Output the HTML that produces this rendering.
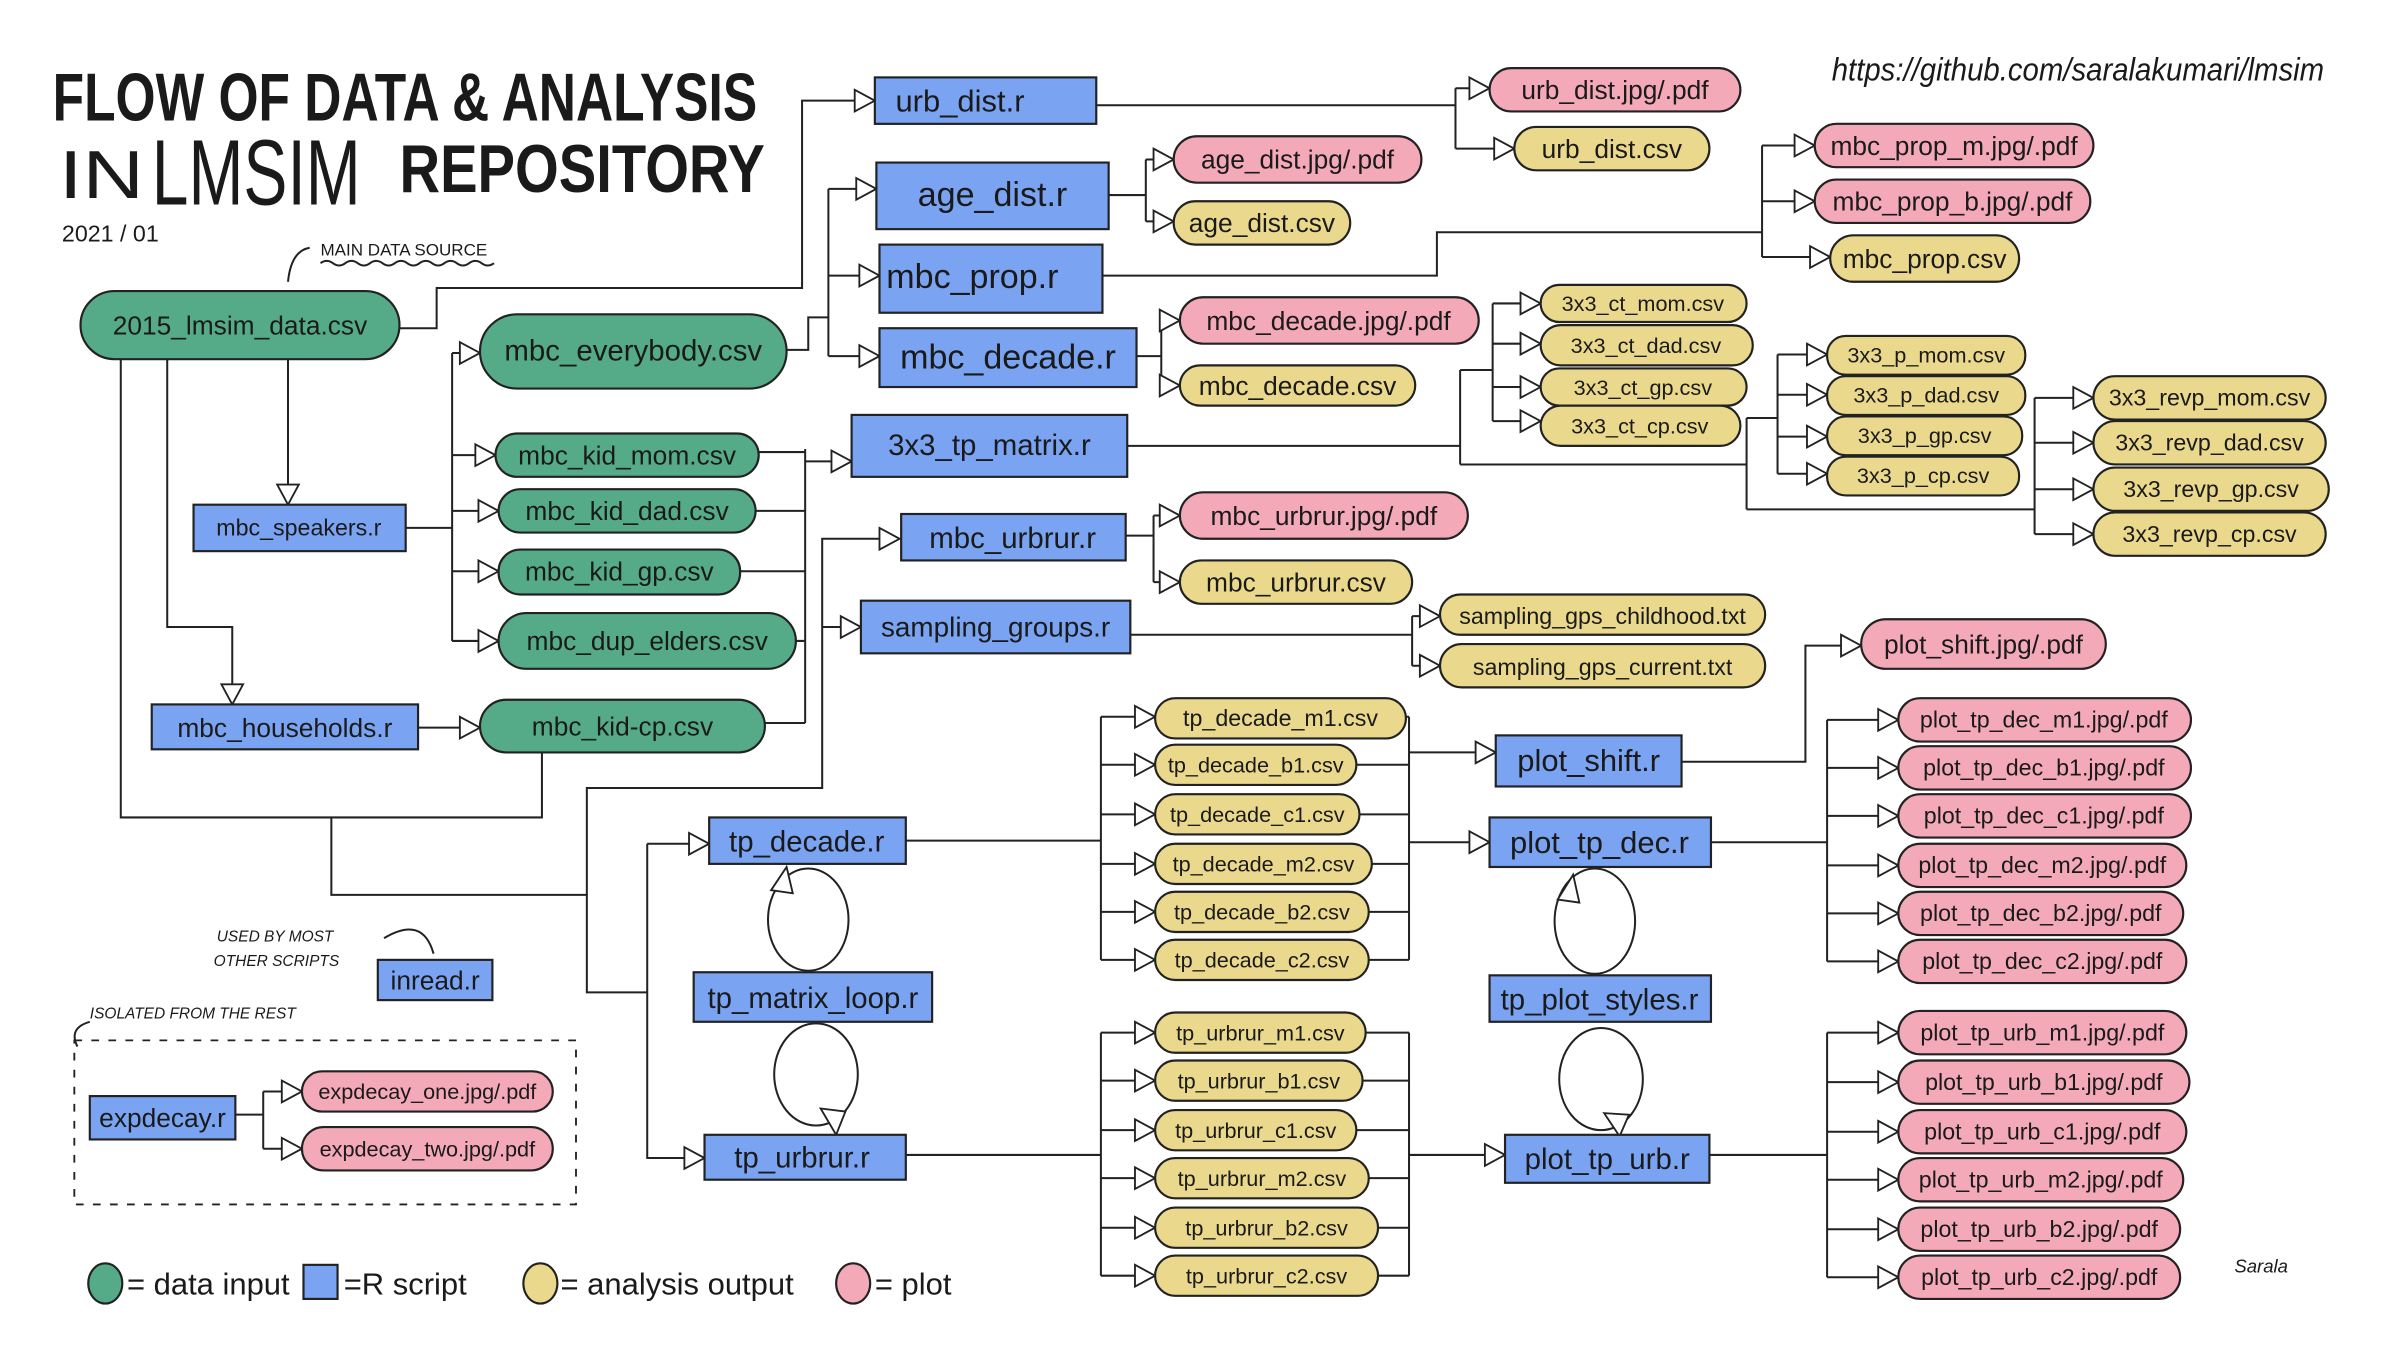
<!DOCTYPE html>
<html><head><meta charset="utf-8"><style>
html,body{margin:0;padding:0;background:#fff;}
svg{display:block}
text{font-family:"Liberation Sans Narrow","Liberation Sans",sans-serif;fill:#1a1a1a}
.b{fill:#7aa3f2;stroke:#222;stroke-width:1.4}
.g{fill:#55ab88;stroke:#222;stroke-width:1.4}
.y{fill:#ead98c;stroke:#222;stroke-width:1.4}
.p{fill:#f4a9b9;stroke:#222;stroke-width:1.4}
.l{fill:none;stroke:#222;stroke-width:1.3}
.a{fill:#fff;stroke:#222;stroke-width:1.2}
.n{font-size:17px;text-anchor:middle}
.s{font-size:15px;text-anchor:middle}
.t{font-size:14px;text-anchor:middle}
</style></head><body>
<svg width="2400" height="1350" viewBox="0 0 1550 872" preserveAspectRatio="none" xmlns="http://www.w3.org/2000/svg">
<rect width="1550" height="872" fill="#fff"/>
<text x="34" y="78" style="font-size:44px;font-weight:bold" textLength="455" lengthAdjust="spacingAndGlyphs">FLOW OF DATA &amp; ANALYSIS</text>
<text x="38" y="128" style="font-size:44px" textLength="55" lengthAdjust="spacingAndGlyphs">IN</text>
<text x="98" y="132" style="font-size:60px" textLength="135" lengthAdjust="spacingAndGlyphs">LMSIM</text>
<text x="258" y="124" style="font-size:44px;font-weight:bold" textLength="236" lengthAdjust="spacingAndGlyphs">REPOSITORY</text>
<text x="40" y="156" style="font-size:15px">2021 / 01</text>
<text x="207" y="165" style="font-size:11px">MAIN DATA SOURCE</text>
<path class="l" d="M207 170 q4 -3 8 0 t8 0 t8 0 t8 0 t8 0 t8 0 t8 0 t8 0 t8 0 t8 0 t8 0 t8 0 t8 0 t8 0" stroke-width="0.8"/>
<path class="l" d="M200 160 q-12 2 -14 22"/>
<text x="1183" y="52" style="font-size:21px;font-style:italic" textLength="318" lengthAdjust="spacingAndGlyphs">https://github.com/saralakumari/lmsim</text>
<text x="1443" y="822" style="font-size:12px;font-style:italic">Sarala</text>

<g class="l">
<path d="M258 212 H282 V186 H518 V65 H552"/>
<path d="M186 232 V313"/>
<path d="M108 232 V405 H150 V442"/>
<path d="M78 232 V528 H350 V486"/>
<path d="M214 528 V578 H379 V641 H418"/>
<path d="M379 578 V509 H531 V348 H568"/>
<path d="M531 405 H543"/>
<path d="M418 545 V748 H442"/>
<path d="M418 545 H445"/>
<path d="M262 341 H292"/>
<path d="M292 228 V414"/>
<path d="M292 228 H297 M292 294 H307 M292 330 H309 M292 369 H309 M292 414 H309"/>
<path d="M270 470 H297"/>
<path d="M490 292 H520 M488 330 H520 M478 369 H520 M514 414 H520 M494 467 H520 M520 290 V467"/>
<path d="M520 298 H537"/>
<path d="M508 226 H522 V205 H535 M535 122 V230 M535 122 H553 M535 178 H555 M535 230 H555"/>
<path d="M708 68 H940 M940 57 V96 M940 57 H949 M940 96 H965"/>
<path d="M716 126 H740 M740 103 V143 M740 103 H745 M740 143 H745"/>
<path d="M712 178 H928 V150 H1138 M1138 94 V166 M1138 94 H1159 M1138 130 H1159 M1138 166 H1169"/>
<path d="M734 230 H750 M750 207 V249 M750 207 H749 M750 249 H749"/>
<path d="M728 288 H943 M943 239 V300 M943 239 H964 M964 196 V272 M964 196 H982 M964 222 H982 M964 250 H982 M964 272 H982"/>
<path d="M943 300 H1128 M1128 270 V329 M1128 270 H1148 M1148 229 V306 M1148 229 H1167 M1148 255 H1167 M1148 282 H1167 M1148 306 H1167"/>
<path d="M1128 329 H1314 M1314 257 V345 M1314 257 H1339 M1314 286 H1339 M1314 316 H1339 M1314 345 H1339"/>
<path d="M727 346 H745 M745 333 V376 M745 333 H749 M745 376 H749"/>
<path d="M730 410 H912 M912 398 V430 M912 398 H917 M912 430 H917"/>
<path d="M585 543 H711 M711 463 V620 M711 463 H733 M711 494 H733 M711 526 H733 M711 558 H733 M711 589 H733 M711 620 H733"/>
<path d="M908 463 H910 M876 494 H910 M878 526 H910 M886 558 H910 M884 589 H910 M884 620 H910 M910 463 V620"/>
<path d="M910 544 H949 M910 486 H953"/>
<path d="M1086 492 H1166 V417 H1189"/>
<path d="M1105 544 H1180 M1180 465 V621 M1180 465 H1213 M1180 496 H1213 M1180 527 H1213 M1180 559 H1213 M1180 590 H1213 M1180 621 H1213"/>
<path d="M585 746 H711 M711 667 V824 M711 667 H733 M711 698 H733 M711 730 H733 M711 761 H733 M711 793 H733 M711 824 H733"/>
<path d="M882 667 H910 M880 698 H910 M876 730 H910 M884 761 H910 M890 793 H910 M890 824 H910 M910 667 V824"/>
<path d="M910 746 H959"/>
<path d="M1104 746 H1180 M1180 667 V825 M1180 667 H1213 M1180 699 H1213 M1180 731 H1213 M1180 762 H1213 M1180 794 H1213 M1180 825 H1213"/>
<path d="M152 720 H170 M170 705 V742 M170 705 H182 M170 742 H182"/>
<ellipse cx="522" cy="594" rx="26" ry="33"/>
<ellipse cx="1030" cy="595" rx="26" ry="34"/>
<ellipse cx="527" cy="694" rx="27" ry="33"/>
<ellipse cx="1034" cy="697" rx="27" ry="33"/>
<path d="M248 606 q25 -15 32 10"/>
<path d="M58 660 q-14 4 -8 16"/>
</g>
<rect x="48" y="672" width="324" height="106" fill="none" stroke="#222" stroke-width="1.2" stroke-dasharray="5 6"/>

<g class="a">
<path d="M552 58 L565 65 L552 72Z"/><path d="M553 115 L566 122 L553 129Z"/><path d="M555 171 L568 178 L555 185Z"/><path d="M555 223 L568 230 L555 237Z"/>
<path d="M537 291 L550 298 L537 305Z"/><path d="M568 341 L581 348 L568 355Z"/><path d="M543 398 L556 405 L543 412Z"/>
<path d="M179 313 L186 326 L193 313Z"/><path d="M143 442 L150 455 L157 442Z"/>
<path d="M297 221 L310 228 L297 235Z"/><path d="M307 287 L320 294 L307 301Z"/><path d="M309 323 L322 330 L309 337Z"/><path d="M309 362 L322 369 L309 376Z"/><path d="M309 407 L322 414 L309 421Z"/><path d="M297 463 L310 470 L297 477Z"/>
<path d="M949 50 L962 57 L949 64Z"/><path d="M965 89 L978 96 L965 103Z"/>
<path d="M745 96 L758 103 L745 110Z"/><path d="M745 136 L758 143 L745 150Z"/>
<path d="M1159 87 L1172 94 L1159 101Z"/><path d="M1159 123 L1172 130 L1159 137Z"/><path d="M1169 159 L1182 166 L1169 173Z"/>
<path d="M749 200 L762 207 L749 214Z"/><path d="M749 242 L762 249 L749 256Z"/>
<path d="M982 189 L995 196 L982 203Z"/><path d="M982 215 L995 222 L982 229Z"/><path d="M982 243 L995 250 L982 257Z"/><path d="M982 265 L995 272 L982 279Z"/>
<path d="M1167 222 L1180 229 L1167 236Z"/><path d="M1167 248 L1180 255 L1167 262Z"/><path d="M1167 275 L1180 282 L1167 289Z"/><path d="M1167 299 L1180 306 L1167 313Z"/>
<path d="M1339 250 L1352 257 L1339 264Z"/><path d="M1339 279 L1352 286 L1339 293Z"/><path d="M1339 309 L1352 316 L1339 323Z"/><path d="M1339 338 L1352 345 L1339 352Z"/>
<path d="M749 326 L762 333 L749 340Z"/><path d="M749 369 L762 376 L749 383Z"/>
<path d="M917 391 L930 398 L917 405Z"/><path d="M917 423 L930 430 L917 437Z"/>
<path d="M445 538 L458 545 L445 552Z"/><path d="M442 741 L455 748 L442 755Z"/>
<path d="M733 456 L746 463 L733 470Z"/><path d="M733 487 L746 494 L733 501Z"/><path d="M733 519 L746 526 L733 533Z"/><path d="M733 551 L746 558 L733 565Z"/><path d="M733 582 L746 589 L733 596Z"/><path d="M733 613 L746 620 L733 627Z"/>
<path d="M733 660 L746 667 L733 674Z"/><path d="M733 691 L746 698 L733 705Z"/><path d="M733 723 L746 730 L733 737Z"/><path d="M733 754 L746 761 L733 768Z"/><path d="M733 786 L746 793 L733 800Z"/><path d="M733 817 L746 824 L733 831Z"/>
<path d="M953 479 L966 486 L953 493Z"/><path d="M949 537 L962 544 L949 551Z"/><path d="M959 739 L972 746 L959 753Z"/>
<path d="M1189 410 L1202 417 L1189 424Z"/>
<path d="M1213 458 L1226 465 L1213 472Z"/><path d="M1213 489 L1226 496 L1213 503Z"/><path d="M1213 520 L1226 527 L1213 534Z"/><path d="M1213 552 L1226 559 L1213 566Z"/><path d="M1213 583 L1226 590 L1213 597Z"/><path d="M1213 614 L1226 621 L1213 628Z"/>
<path d="M1213 660 L1226 667 L1213 674Z"/><path d="M1213 692 L1226 699 L1213 706Z"/><path d="M1213 724 L1226 731 L1213 738Z"/><path d="M1213 755 L1226 762 L1213 769Z"/><path d="M1213 787 L1226 794 L1213 801Z"/><path d="M1213 818 L1226 825 L1213 832Z"/>
<path d="M182 698 L195 705 L182 712Z"/><path d="M182 735 L195 742 L182 749Z"/>
<path d="M498 575 L508 560 L512 577Z"/><path d="M1006 581 L1016 565 L1020 583Z"/><path d="M530 716 L540 733 L546 718Z"/><path d="M1036 719 L1046 734 L1052 720Z"/>
</g>

<rect class="g" x="52" y="188" width="206" height="44" rx="22"/><text class="n" x="155" y="216">2015_lmsim_data.csv</text>
<rect class="g" x="310" y="203" width="198" height="48" rx="24"/><text class="n" x="409" y="233" style="font-size:19px">mbc_everybody.csv</text>
<rect class="g" x="320" y="280" width="170" height="28" rx="14"/><text class="n" x="405" y="300">mbc_kid_mom.csv</text>
<rect class="g" x="322" y="316" width="166" height="28" rx="14"/><text class="n" x="405" y="336">mbc_kid_dad.csv</text>
<rect class="g" x="322" y="355" width="156" height="29" rx="14"/><text class="n" x="400" y="375">mbc_kid_gp.csv</text>
<rect class="g" x="322" y="396" width="192" height="36" rx="18"/><text class="n" x="418" y="420">mbc_dup_elders.csv</text>
<rect class="g" x="310" y="452" width="184" height="34" rx="17"/><text class="n" x="402" y="475">mbc_kid-cp.csv</text>

<rect class="b" x="125" y="326" width="137" height="30"/><text class="s" x="193" y="346">mbc_speakers.r</text>
<rect class="b" x="98" y="455" width="172" height="29"/><text class="n" x="184" y="476">mbc_households.r</text>
<rect class="b" x="565" y="50" width="143" height="30"/><text class="n" x="620" y="72" style="font-size:20px">urb_dist.r</text>
<rect class="b" x="566" y="105" width="150" height="43"/><text class="n" x="641" y="133" style="font-size:22px">age_dist.r</text>
<rect class="b" x="568" y="158" width="144" height="44"/><text class="n" x="628" y="186" style="font-size:22px">mbc_prop.r</text>
<rect class="b" x="568" y="212" width="166" height="38"/><text class="n" x="651" y="238" style="font-size:22px">mbc_decade.r</text>
<rect class="b" x="550" y="268" width="178" height="40"/><text class="n" x="639" y="294" style="font-size:19px">3x3_tp_matrix.r</text>
<rect class="b" x="582" y="332" width="145" height="30"/><text class="n" x="654" y="354" style="font-size:19px">mbc_urbrur.r</text>
<rect class="b" x="556" y="388" width="174" height="34"/><text class="n" x="643" y="411" style="font-size:18px">sampling_groups.r</text>
<rect class="b" x="458" y="528" width="127" height="30"/><text class="n" x="521" y="550" style="font-size:19px">tp_decade.r</text>
<rect class="b" x="448" y="628" width="154" height="32"/><text class="n" x="525" y="651" style="font-size:19px">tp_matrix_loop.r</text>
<rect class="b" x="455" y="733" width="130" height="29"/><text class="n" x="518" y="754" style="font-size:19px">tp_urbrur.r</text>
<rect class="b" x="244" y="620" width="74" height="26"/><text class="n" x="281" y="639">inread.r</text>
<rect class="b" x="58" y="708" width="94" height="28"/><text class="n" x="105" y="728">expdecay.r</text>
<rect class="b" x="966" y="475" width="120" height="33"/><text class="n" x="1026" y="498" style="font-size:20px">plot_shift.r</text>
<rect class="b" x="962" y="528" width="143" height="32"/><text class="n" x="1033" y="551" style="font-size:20px">plot_tp_dec.r</text>
<rect class="b" x="962" y="630" width="143" height="30"/><text class="n" x="1033" y="652" style="font-size:19px">tp_plot_styles.r</text>
<rect class="b" x="972" y="733" width="132" height="31"/><text class="n" x="1038" y="755" style="font-size:19px">plot_tp_urb.r</text>

<rect class="p" x="962" y="44" width="162" height="28" rx="14"/><text class="n" x="1043" y="64">urb_dist.jpg/.pdf</text>
<rect class="p" x="758" y="88" width="160" height="30" rx="15"/><text class="n" x="838" y="109">age_dist.jpg/.pdf</text>
<rect class="p" x="1172" y="80" width="180" height="28" rx="14"/><text class="n" x="1262" y="100">mbc_prop_m.jpg/.pdf</text>
<rect class="p" x="1172" y="116" width="178" height="28" rx="14"/><text class="n" x="1261" y="136">mbc_prop_b.jpg/.pdf</text>
<rect class="p" x="762" y="192" width="193" height="30" rx="15"/><text class="n" x="858" y="213">mbc_decade.jpg/.pdf</text>
<rect class="p" x="762" y="318" width="186" height="30" rx="15"/><text class="n" x="855" y="339">mbc_urbrur.jpg/.pdf</text>
<rect class="p" x="1202" y="400" width="158" height="32" rx="16"/><text class="n" x="1281" y="422">plot_shift.jpg/.pdf</text>
<rect class="p" x="1226" y="451" width="189" height="28" rx="14"/><text class="s" x="1320" y="470">plot_tp_dec_m1.jpg/.pdf</text>
<rect class="p" x="1226" y="482" width="189" height="28" rx="14"/><text class="s" x="1320" y="501">plot_tp_dec_b1.jpg/.pdf</text>
<rect class="p" x="1226" y="513" width="189" height="28" rx="14"/><text class="s" x="1320" y="532">plot_tp_dec_c1.jpg/.pdf</text>
<rect class="p" x="1226" y="545" width="186" height="28" rx="14"/><text class="s" x="1319" y="564">plot_tp_dec_m2.jpg/.pdf</text>
<rect class="p" x="1226" y="576" width="184" height="28" rx="14"/><text class="s" x="1318" y="595">plot_tp_dec_b2.jpg/.pdf</text>
<rect class="p" x="1226" y="607" width="186" height="28" rx="14"/><text class="s" x="1319" y="626">plot_tp_dec_c2.jpg/.pdf</text>
<rect class="p" x="1226" y="653" width="186" height="28" rx="14"/><text class="s" x="1319" y="672">plot_tp_urb_m1.jpg/.pdf</text>
<rect class="p" x="1226" y="685" width="188" height="28" rx="14"/><text class="s" x="1320" y="704">plot_tp_urb_b1.jpg/.pdf</text>
<rect class="p" x="1226" y="717" width="186" height="28" rx="14"/><text class="s" x="1319" y="736">plot_tp_urb_c1.jpg/.pdf</text>
<rect class="p" x="1226" y="748" width="184" height="28" rx="14"/><text class="s" x="1318" y="767">plot_tp_urb_m2.jpg/.pdf</text>
<rect class="p" x="1226" y="780" width="182" height="28" rx="14"/><text class="s" x="1317" y="799">plot_tp_urb_b2.jpg/.pdf</text>
<rect class="p" x="1226" y="811" width="182" height="28" rx="14"/><text class="s" x="1317" y="830">plot_tp_urb_c2.jpg/.pdf</text>
<rect class="p" x="195" y="692" width="162" height="26" rx="13"/><text class="t" x="276" y="710">expdecay_one.jpg/.pdf</text>
<rect class="p" x="195" y="728" width="162" height="28" rx="14"/><text class="t" x="276" y="747">expdecay_two.jpg/.pdf</text>

<rect class="y" x="978" y="82" width="126" height="28" rx="14"/><text class="n" x="1041" y="102">urb_dist.csv</text>
<rect class="y" x="758" y="130" width="114" height="28" rx="14"/><text class="n" x="815" y="150">age_dist.csv</text>
<rect class="y" x="1182" y="152" width="122" height="30" rx="15"/><text class="n" x="1243" y="173">mbc_prop.csv</text>
<rect class="y" x="762" y="236" width="152" height="26" rx="13"/><text class="n" x="838" y="255">mbc_decade.csv</text>
<rect class="y" x="995" y="184" width="133" height="24" rx="12"/><text class="t" x="1061" y="201">3x3_ct_mom.csv</text>
<rect class="y" x="995" y="210" width="137" height="26" rx="13"/><text class="t" x="1063" y="228">3x3_ct_dad.csv</text>
<rect class="y" x="995" y="238" width="133" height="24" rx="12"/><text class="t" x="1061" y="255">3x3_ct_gp.csv</text>
<rect class="y" x="995" y="262" width="129" height="26" rx="13"/><text class="t" x="1059" y="280">3x3_ct_cp.csv</text>
<rect class="y" x="1180" y="217" width="128" height="25" rx="12"/><text class="t" x="1244" y="234">3x3_p_mom.csv</text>
<rect class="y" x="1180" y="243" width="128" height="25" rx="12"/><text class="t" x="1244" y="260">3x3_p_dad.csv</text>
<rect class="y" x="1180" y="269" width="126" height="25" rx="12"/><text class="t" x="1243" y="286">3x3_p_gp.csv</text>
<rect class="y" x="1180" y="295" width="124" height="25" rx="12"/><text class="t" x="1242" y="312">3x3_p_cp.csv</text>
<rect class="y" x="1352" y="243" width="150" height="28" rx="14"/><text class="s" x="1427" y="262">3x3_revp_mom.csv</text>
<rect class="y" x="1352" y="272" width="150" height="28" rx="14"/><text class="s" x="1427" y="291">3x3_revp_dad.csv</text>
<rect class="y" x="1352" y="302" width="152" height="28" rx="14"/><text class="s" x="1428" y="321">3x3_revp_gp.csv</text>
<rect class="y" x="1352" y="331" width="150" height="28" rx="14"/><text class="s" x="1427" y="350">3x3_revp_cp.csv</text>
<rect class="y" x="762" y="362" width="150" height="28" rx="14"/><text class="n" x="837" y="382">mbc_urbrur.csv</text>
<rect class="y" x="930" y="384" width="210" height="26" rx="13"/><text class="s" x="1035" y="403">sampling_gps_childhood.txt</text>
<rect class="y" x="930" y="416" width="210" height="28" rx="14"/><text class="s" x="1035" y="436">sampling_gps_current.txt</text>
<rect class="y" x="746" y="451" width="162" height="26" rx="13"/><text class="s" x="827" y="469">tp_decade_m1.csv</text>
<rect class="y" x="746" y="481" width="130" height="26" rx="13"/><text class="t" x="811" y="499">tp_decade_b1.csv</text>
<rect class="y" x="746" y="513" width="132" height="26" rx="13"/><text class="t" x="812" y="531">tp_decade_c1.csv</text>
<rect class="y" x="746" y="545" width="140" height="26" rx="13"/><text class="t" x="816" y="563">tp_decade_m2.csv</text>
<rect class="y" x="746" y="576" width="138" height="26" rx="13"/><text class="t" x="815" y="594">tp_decade_b2.csv</text>
<rect class="y" x="746" y="607" width="138" height="26" rx="13"/><text class="t" x="815" y="625">tp_decade_c2.csv</text>
<rect class="y" x="746" y="654" width="136" height="26" rx="13"/><text class="t" x="814" y="672">tp_urbrur_m1.csv</text>
<rect class="y" x="746" y="685" width="134" height="26" rx="13"/><text class="t" x="813" y="703">tp_urbrur_b1.csv</text>
<rect class="y" x="746" y="717" width="130" height="26" rx="13"/><text class="t" x="811" y="735">tp_urbrur_c1.csv</text>
<rect class="y" x="746" y="748" width="138" height="26" rx="13"/><text class="t" x="815" y="766">tp_urbrur_m2.csv</text>
<rect class="y" x="746" y="780" width="144" height="26" rx="13"/><text class="t" x="818" y="798">tp_urbrur_b2.csv</text>
<rect class="y" x="746" y="811" width="144" height="26" rx="13"/><text class="t" x="818" y="829">tp_urbrur_c2.csv</text>

<text x="140" y="608" style="font-size:10px;font-style:italic">USED BY MOST</text>
<text x="138" y="624" style="font-size:10px;font-style:italic">OTHER  SCRIPTS</text>
<text x="58" y="658" style="font-size:10px;font-style:italic">ISOLATED FROM THE REST</text>

<ellipse cx="68" cy="829" rx="11" ry="13" class="g"/><text x="82" y="836" style="font-size:20px">= data input</text>
<rect x="196" y="817" width="22" height="22" class="b"/><text x="222" y="836" style="font-size:20px">=R script</text>
<ellipse cx="349" cy="829" rx="11" ry="13" class="y"/><text x="362" y="836" style="font-size:20px">= analysis output</text>
<ellipse cx="551" cy="829" rx="11" ry="13" class="p"/><text x="565" y="836" style="font-size:20px">= plot</text>
</svg>
</body></html>
